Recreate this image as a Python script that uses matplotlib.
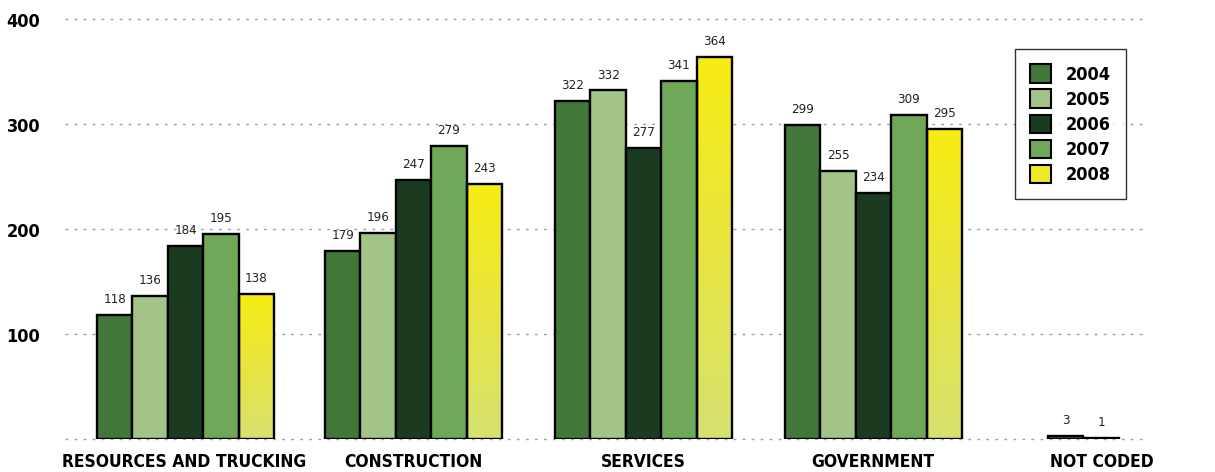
import numpy as np
import matplotlib
matplotlib.use('Agg')
import matplotlib.pyplot as plt
from matplotlib.patches import Patch
from matplotlib.colors import LinearSegmentedColormap

plt.rcParams['font.family'] = ['DejaVu Sans']
plt.rcParams['font.stretch'] = 'condensed'

#%% Data
categories = ['RESOURCES AND TRUCKING', 'CONSTRUCTION', 'SERVICES', 'GOVERNMENT', 'NOT CODED']
years = ['2004', '2005', '2006', '2007', '2008']
v2004 = [118, 179, 322, 299, 3]
v2005 = [136, 196, 332, 255, 1]
v2006 = [184, 247, 277, 234, None]
v2007 = [195, 279, 341, 309, None]
v2008 = [138, 243, 364, 295, None]
series = [v2004, v2005, v2006, v2007, v2008]
yticks = [100, 200, 300, 400]

#%% Layout / styles
colors = ['#41783a', '#a2c488', '#1b3b21', '#6ea858', '#f2e82a']
grad_top, grad_bottom = '#f7ec12', '#d6e270'
group_left = [97, 325, 555, 785, 1048]   # left edge of each group (px units)
label_x = [184, 413, 643, 873, 1102]
bar_w = 35.4

fig = plt.figure(figsize=(12.15, 4.72), dpi=100)
ax = fig.add_axes([65/1215, 33/472, 1080/1215, 420/472])
ax.set_xlim(65, 1145)
ax.set_ylim(0, 400)
ax.axis('off')

# dotted gridlines incl. baseline
for yv in [0] + yticks:
    ax.axhline(yv, color='#a0a0a0', lw=1.0, ls=(0, (2, 4.5)), zorder=0, clip_on=False)

gcmap = LinearSegmentedColormap.from_list('yel', [grad_bottom, '#e8e540', grad_top])
grad = np.linspace(0, 1, 256).reshape(-1, 1)

for si, vals in enumerate(series):
    for gi, v in enumerate(vals):
        if v is None:
            continue
        x0 = group_left[gi] + si*bar_w
        b = ax.bar(x0, v, width=bar_w, align='edge', color=colors[si],
                   edgecolor='black', linewidth=1.7, zorder=3)[0]
        if si == 4:
            # yellow gradient fill, bright at the top
            b.set_facecolor('none')
            im = ax.imshow(grad, extent=[x0, x0 + bar_w, 0, v], origin='lower',
                           cmap=gcmap, aspect='auto', zorder=2)
            im.set_clip_path(b)
        ax.annotate(str(v), (x0 + bar_w/2, v), xytext=(0, 8.5), textcoords='offset points',
                    ha='center', va='baseline', fontsize=9.5, color='#222222')

ax.set_xlim(65, 1145)
ax.set_ylim(0, 400)

# y tick labels
for yv in yticks:
    ax.text(-0.023, yv - 3, str(yv), transform=ax.get_yaxis_transform(),
            ha='right', va='center', fontsize=13, fontweight='bold')

# category labels
for xc, cat in zip(label_x, categories):
    ax.text(xc, -21.5, cat, ha='center', va='center', fontsize=12.5, fontweight='bold',
            clip_on=False)

handles = [Patch(facecolor=c, edgecolor='black', linewidth=1.5) for c in colors]
leg = ax.legend(handles, years, loc='upper left', bbox_to_anchor=(1015/1215, 1 - 49/472),
                bbox_transform=fig.transFigure, frameon=True, fancybox=False,
                prop={'weight': 'bold', 'size': 13, 'stretch': 'condensed'},
                handlelength=1.17, handleheight=1.17,
                handletextpad=0.8, labelspacing=0.33, borderpad=0.85, borderaxespad=0)
leg.get_frame().set_edgecolor('black')
leg.get_frame().set_linewidth(1.0)
leg.set_zorder(5)

fig.savefig('out.png', dpi=100)
